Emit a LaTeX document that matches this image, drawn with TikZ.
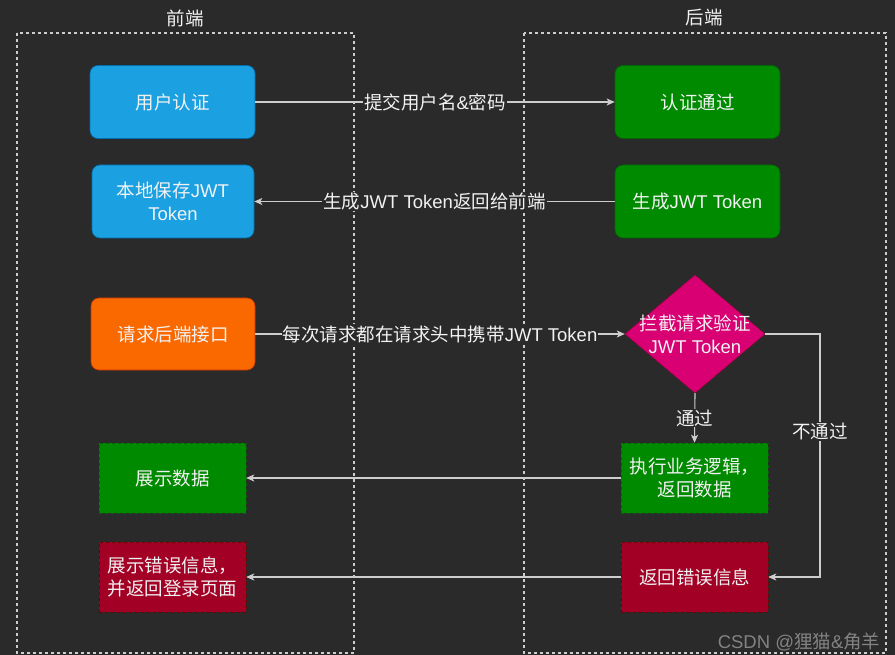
\documentclass[tikz,border=0pt]{standalone}
\usepackage{fontspec}
\setmainfont{Liberation Sans}
\newfontfamily\cjk{Noto Sans CJK SC}
\usetikzlibrary{shapes.geometric,arrows.meta}
\definecolor{bg}{RGB}{42,42,42}
\definecolor{bluef}{RGB}{27,161,226}
\definecolor{blues}{RGB}{0,110,175}
\definecolor{greenf}{RGB}{0,138,0}
\definecolor{greens}{RGB}{0,100,0}
\definecolor{orangef}{RGB}{250,104,0}
\definecolor{oranges}{RGB}{199,53,0}
\definecolor{magf}{RGB}{216,0,115}
\definecolor{mags}{RGB}{165,0,64}
\definecolor{redf}{RGB}{162,0,37}
\definecolor{reds}{RGB}{111,0,0}
\definecolor{linec}{RGB}{205,205,205}
\definecolor{txtc}{RGB}{242,242,242}
\tikzset{
  basefont/.style={font=\fontsize{18.5}{23}\selectfont},
  rbox/.style={basefont, rounded corners=8pt, minimum width=165pt, minimum height=73pt, align=center, text=txtc, inner sep=2pt, line width=0.6pt},
  sbox/.style={basefont, rectangle, minimum width=147pt, minimum height=70pt, align=center, text=txtc, inner sep=2pt, line width=0.5pt, dashed},
  dia/.style={diamond, minimum width=140pt, minimum height=118pt, inner sep=0pt, fill=magf, draw=mags},
  txt/.style={basefont, align=center, text=txtc, inner sep=0pt},
  edge/.style={draw=linec, line width=1.1pt, -{Stealth[length=8pt,width=7pt,inset=2pt]}},
  elabel/.style={basefont, text=txtc, fill=bg, inner sep=1pt},
  group/.style={draw=linec, line width=1.1pt, dash pattern=on 3pt off 3pt},
  title/.style={basefont, text=txtc}
}
\begin{document}
\begin{tikzpicture}[x=1pt,y=-1pt]
\fill[bg] (0,0) rectangle (895,655);
\useasboundingbox (0,0) rectangle (895,655);
% groups
\draw[group] (17,33) rectangle (354,653);
\draw[group] (524,33) rectangle (886,653);
\node[title] (t1) at (185,18) {\cjk 前端};
\node[title] (t2) at (704,18) {\cjk 后端};
% front-end nodes
\node[rbox, fill=bluef, draw=blues] (ua) at (172.5,102) {\cjk 用户认证};
\node[rbox, fill=bluef, draw=blues, minimum width=162pt] (ls) at (173,201.5) {{\cjk 本地保存}JWT\\Token};
\node[rbox, fill=orangef, draw=oranges, minimum width=164pt, minimum height=72pt] (rq) at (173,334) {\cjk 请求后端接口};
\node[sbox, fill=greenf, draw=greens] (sd) at (172.5,478) {\cjk 展示数据};
\node[sbox, fill=redf, draw=reds] (se) at (172.5,577) {\cjk 展示错误信息，\\\cjk 并返回登录页面};
% back-end nodes
\node[rbox, fill=greenf, draw=greens] (ok) at (697.5,102) {\cjk 认证通过};
\node[rbox, fill=greenf, draw=greens] (gt) at (697.5,201.5) {{\cjk 生成}JWT Token};
\node[dia] (dm) at (695,334) {};
\node[txt] (dmt) at (dm) {\cjk 拦截请求验证\\JWT Token};
\node[sbox, fill=greenf, draw=greens] (ex) at (694.5,478) {{\cjk 执行业务逻辑，}\\{\cjk 返回数据}};
\node[sbox, fill=redf, draw=reds] (er) at (694.5,577) {\cjk 返回错误信息};
% connectors
\draw[edge] (ua.east) -- node[elabel] {{\cjk 提交用户名}\&{\cjk 密码}} (ok.west);
\draw[edge] (gt.west) -- node[elabel] {{\cjk 生成}JWT Token{\cjk 返回给前端}} (ls.east);
\draw[edge] (rq.east) -- node[elabel] {{\cjk 每次请求都在请求头中携带}JWT Token} (dm.west);
\draw[edge] (dm.south) -- node[elabel] {\cjk 通过} (ex.north);
\coordinate (c1) at (820,334);
\coordinate (c2) at (820,577);
\draw[edge] (dm.east) -- (c1) -- node[elabel, pos=0.4] {\cjk 不通过} (c2) -- (er.east);
\draw[edge] (ex.west) -- (sd.east);
\draw[edge] (er.west) -- (se.east);
% watermark
\node[basefont, text=gray!80, opacity=0.8, anchor=base east] (wm) at (884,648) {CSDN @{\cjk 狸猫}\&{\cjk 角羊}};
\end{tikzpicture}
\end{document}
